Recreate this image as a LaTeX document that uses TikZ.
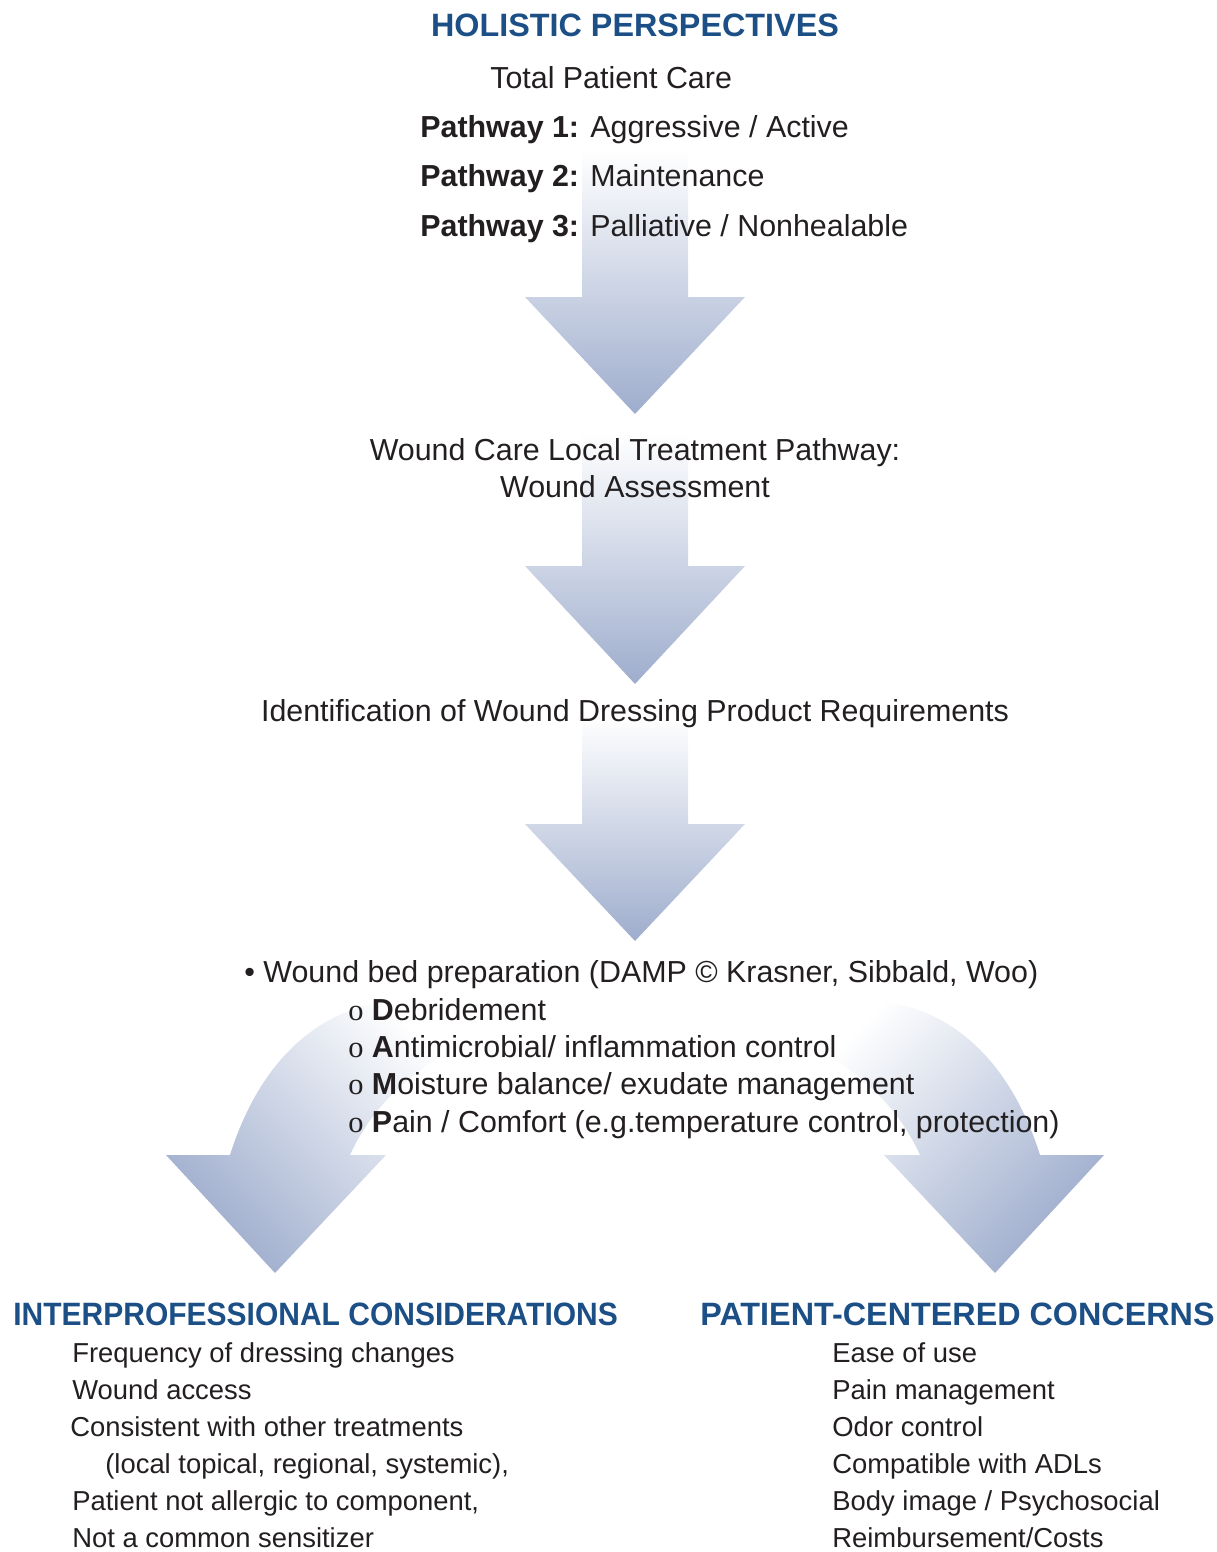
\documentclass[tikz,border=0pt]{standalone}
\usepackage{fontspec}
\setmainfont{Liberation Sans}
\newfontfamily\serifo{Liberation Serif}

\definecolor{arrowblue}{RGB}{158,173,205}
\definecolor{titleblue}{RGB}{27,79,134}
\definecolor{ink}{RGB}{35,31,32}

\newcommand{\titlefont}{\fontsize{18.4}{21}\selectfont\bfseries}
\newcommand{\bodyfont}{\fontsize{17.3}{20}\selectfont}
\newcommand{\listfont}{\fontsize{15.6}{18}\selectfont}

\tikzset{
  arrowshade/.style={top color=white, bottom color=arrowblue},
  heading/.style={anchor=base west, inner sep=0pt, font=\titlefont, text=titleblue},
  txt/.style={anchor=base west, inner sep=0pt, font=\bodyfont, text=ink},
  item/.style={anchor=base west, inner sep=0pt, font=\listfont, text=ink}
}

\begin{document}
\begin{tikzpicture}[x=0.02cm, y=-0.02cm]
\useasboundingbox (0,0) rectangle (1217,1552);

% the three straight arrows down the middle
\shade[arrowshade] (582,150) -- (688,150) -- (688,297) -- (745,297) -- (635,414) -- (525,297) -- (582,297) -- cycle;
\shade[arrowshade] (582,433) -- (688,433) -- (688,566) -- (745,566) -- (635,684) -- (525,566) -- (582,566) -- cycle;
\shade[arrowshade] (582,717) -- (688,717) -- (688,824) -- (745,824) -- (635,941) -- (525,824) -- (582,824) -- cycle;

% curved arrows, left and right
\shade[top color=white, bottom color=arrowblue, shading angle=-45] (350,1155) -- (386,1155) -- (275,1273) -- (166,1155) -- (230,1155) .. controls (260,1060) and (320,1005) .. (400,1000) -- (470,1040) .. controls (420,1065) and (375,1100) .. (350,1155) -- cycle;
\shade[top color=white, bottom color=arrowblue, shading angle=45] (920,1155) -- (884,1155) -- (995,1273) -- (1104,1155) -- (1040,1155) .. controls (1010,1060) and (950,1005) .. (870,1000) -- (800,1040) .. controls (850,1065) and (895,1100) .. (920,1155) -- cycle;

% top block
\node[heading, anchor=base] (holistic) at (635,36) {HOLISTIC PERSPECTIVES};
\node[txt] (total) at (490,88) {Total Patient Care};
\node[txt] (path1) at (420,137) {\textbf{Pathway 1:} Aggressive / Active};
\node[txt] (path2) at (420,186) {\textbf{Pathway 2:} Maintenance};
\node[txt] (path3) at (420,236) {\textbf{Pathway 3:} Palliative / Nonhealable};

\node[txt, anchor=base] (care) at (635,460) {Wound Care Local Treatment Pathway:};
\node[txt, anchor=base] (assess) at (635,497) {Wound Assessment};

\node[txt, anchor=base] (ident) at (635,721) {Identification of Wound Dressing Product Requirements};

% DAMP list
\node[txt] (wbp) at (244,982) {• Wound bed preparation (DAMP © Krasner, Sibbald, Woo)};
\node[txt] (damp1) at (348,1020) {{\serifo o} \textbf{D}ebridement};
\node[txt] (damp2) at (348,1057) {{\serifo o} \textbf{A}ntimicrobial/ inflammation control};
\node[txt] (damp3) at (348,1094) {{\serifo o} \textbf{M}oisture balance/ exudate management};
\node[txt] (damp4) at (348,1132) {{\serifo o} \textbf{P}ain / Comfort (e.g.temperature control, protection)};

% bottom left
\node[heading] (inter) at (13,1325) {\scalebox{0.928}[1]{INTERPROFESSIONAL CONSIDERATIONS}};
\node[item] (l1) at (72,1362) {Frequency of dressing changes};
\node[item] (l2) at (72,1399) {Wound access};
\node[item] (l3) at (70,1436) {Consistent with other treatments};
\node[item] (l4) at (105,1473) {(local topical, regional, systemic),};
\node[item] (l5) at (72,1510) {Patient not allergic to component,};
\node[item] (l6) at (72,1547) {Not a common sensitizer};

% bottom right
\node[heading] (patient) at (700,1325) {PATIENT-CENTERED CONCERNS};
\node[item] (r1) at (832,1362) {Ease of use};
\node[item] (r2) at (832,1399) {Pain management};
\node[item] (r3) at (832,1436) {Odor control};
\node[item] (r4) at (832,1473) {Compatible with ADLs};
\node[item] (r5) at (832,1510) {Body image / Psychosocial};
\node[item] (r6) at (832,1547) {Reimbursement/Costs};
\end{tikzpicture}
\end{document}
